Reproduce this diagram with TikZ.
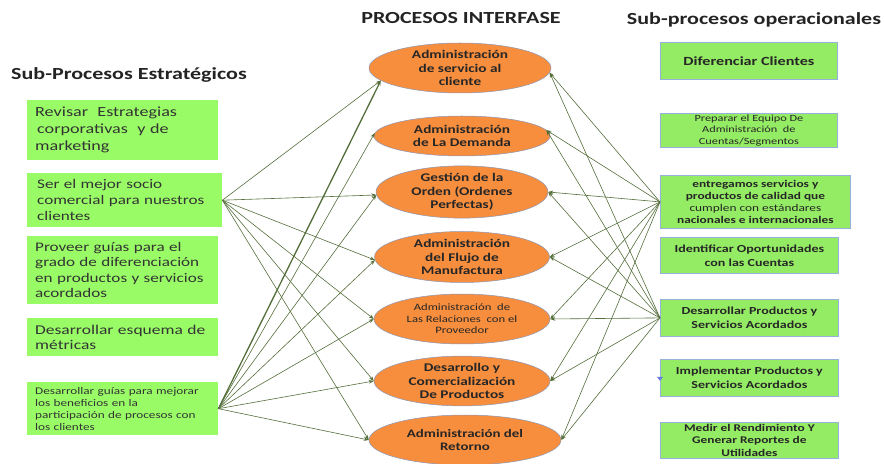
\documentclass[tikz,border=0pt]{standalone}
\usepackage{fontspec}
\setmainfont{Carlito}[FakeStretch=1.3]
\usetikzlibrary{shapes.geometric,arrows.meta}
\definecolor{leftgreen}{RGB}{153,252,102}
\definecolor{rightgreen}{RGB}{148,236,100}
\definecolor{rightedge}{RGB}{150,178,220}
\definecolor{procorange}{RGB}{247,142,62}
\definecolor{procedge}{RGB}{140,150,180}
\definecolor{linkgreen}{RGB}{84,110,58}
\definecolor{titlegray}{RGB}{35,35,35}
\begin{document}
\begin{tikzpicture}[x=1bp,y=-1bp,
  stratbox/.style={fill=leftgreen, draw=none, anchor=north west, inner xsep=8bp, inner ysep=0pt,
    text width=175bp, align=left, text=black!80},
  opbox/.style={fill=rightgreen, draw=rightedge, line width=0.8bp, anchor=north west, inner sep=0pt,
    text=black!85, align=center},
  proc/.style={ellipse, fill=procorange, draw=procedge, line width=0.5bp, inner sep=0pt,
    align=center, text=black!85, font=\fontsize{11.8}{13.5}\selectfont\bfseries},
  heading/.style={font=\fontsize{17}{20}\selectfont\bfseries, text=titlegray},
  link/.style={draw=linkgreen, line width=0.6bp, -{Stealth[length=5bp,width=3.6bp]}}]

\useasboundingbox (0,0) rectangle (884,464);

% column headings
\node[heading] (hl) at (129,75) {Sub-Procesos Estratégicos};
\node[heading] (hm) at (461,18) {PROCESOS INTERFASE};
\node[heading] (hr) at (754,20) {Sub-procesos operacionales};

% strategic sub-processes
\node[stratbox, minimum height=60bp, font=\fontsize{14}{17}\selectfont] (s1) at (27,100)
  {Revisar~ Estrategias\\\hspace*{2bp}corporativas~ y de\\marketing};
\node[stratbox, minimum height=54bp, font=\fontsize{13.2}{16}\selectfont, inner xsep=10bp] (s2) at (27,173)
  {Ser el mejor socio\\comercial para nuestros\\clientes};
\node[stratbox, minimum height=68bp, font=\fontsize{13.2}{15.5}\selectfont] (s3) at (27,236)
  {Proveer guías para el\\grado de diferenciación\\en productos y servicios\\acordados};
\node[stratbox, minimum height=38bp, font=\fontsize{13.5}{15.5}\selectfont] (s4) at (27,318)
  {Desarrollar esquema de\\métricas};
\node[stratbox, minimum height=53bp, font=\fontsize{10.2}{12}\selectfont] (s5) at (27,382)
  {Desarrollar guías para mejorar\\los beneficios en la\\participación de procesos con\\los clientes};

% interface processes
\node[proc, minimum width=182bp, minimum height=50bp] (e1) at (460,68)
  {Administración\\de servicio al\\cliente};
\node[proc, minimum width=176bp, minimum height=40bp] (e2) at (462,136)
  {Administración\\de La Demanda};
\node[proc, minimum width=172bp, minimum height=51bp] (e3) at (462,192)
  {Gestión de la\\Orden (Ordenes\\Perfectas)};
\node[proc, minimum width=175bp, minimum height=51bp] (e4) at (462,257)
  {Administración\\del Flujo de\\Manufactura};
\node[proc, minimum width=176bp, minimum height=50bp, font=\fontsize{9.8}{11.5}\selectfont] (e5) at (462,319)
  {Administración~ de\\Las Relaciones~ con el\\Proveedor};
\node[proc, minimum width=176bp, minimum height=49bp] (e6) at (462,381)
  {Desarrollo y\\Comercialización\\De Productos};
\node[proc, minimum width=192bp, minimum height=50bp, font=\fontsize{11.5}{13.5}\selectfont\bfseries] (e7) at (465,440)
  {Administración del\\Retorno};

% operational sub-processes
\node[opbox, minimum width=177bp, minimum height=37bp, font=\fontsize{12.5}{14}\selectfont\bfseries] (o1) at (660,42)
  {Diferenciar Clientes};
\node[opbox, minimum width=177bp, minimum height=34bp, font=\fontsize{9.5}{11.5}\selectfont] (o2) at (660,113)
  {Preparar el Equipo De\\Administración~ de\\Cuentas/Segmentos};
\node[opbox, minimum width=190bp, minimum height=53bp, font=\fontsize{10.3}{12.3}\selectfont\bfseries] (o3) at (660,175)
  {entregamos servicios y\\productos de calidad que\\{\mdseries cumplen con estándares}\\nacionales e internacionales};
\node[opbox, minimum width=178bp, minimum height=36bp, font=\fontsize{10.8}{14}\selectfont\bfseries] (o4) at (660,237)
  {Identificar Oportunidades\\con las Cuentas};
\node[opbox, minimum width=178bp, minimum height=37bp, font=\fontsize{10.8}{14}\selectfont\bfseries] (o5) at (660,299)
  {Desarrollar Productos y\\Servicios Acordados};
\node[opbox, minimum width=178bp, minimum height=37bp, font=\fontsize{10.8}{14}\selectfont\bfseries] (o6) at (660,359)
  {Implementar Productos y\\Servicios Acordados};
\node[opbox, minimum width=178bp, minimum height=36bp, font=\fontsize{10.3}{12.5}\selectfont\bfseries] (o7) at (660,422)
  {Medir el Rendimiento Y\\Generar Reportes de\\Utilidades};

% small marker at the left edge of the implementation box
\fill[rightedge!70!blue] ([xshift=-3bp,yshift=1bp]o6.west) -- ++(6,0) -- ++(-3,4) -- cycle;

% strategic links into the interface processes
\foreach \t/\a in {e1/189, e3/182, e4/182, e5/180, e6/180, e7/180}
  \draw[link] (s2.east) -- (\t.\a);
\draw[link, line width=1.3bp] (s5.east) -- (e1.189);
\foreach \t/\a in {e2/178, e3/182, e4/182, e5/180, e6/180, e7/180}
  \draw[link] (s5.east) -- (\t.\a);

% operational links into the interface processes
\foreach \s in {o3, o5}
  \foreach \t/\a in {e1/357, e2/4, e3/0, e4/0, e5/0, e6/0, e7/0}
    \draw[link] (\s.west) -- (\t.\a);

\end{tikzpicture}
\end{document}
